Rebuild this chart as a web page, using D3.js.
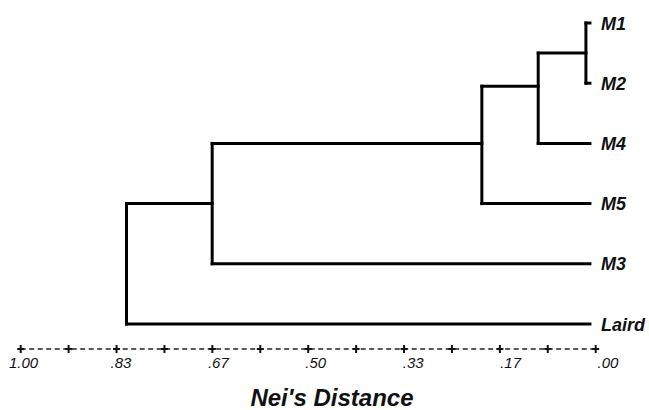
<!DOCTYPE html>
<html>
<head>
<meta charset="utf-8">
<script src="https://cdn.jsdelivr.net/npm/d3@7"></script>
<style>
  body { margin: 0; background: #fff; }
  text { font-family: "Liberation Sans", Arial, sans-serif; fill: #111; }
</style>
</head>
<body>
<div id="chart"></div>
<script>
const width = 649;
const height = 410;

// leaves, top to bottom
const leafNames = ["M1", "M2", "M4", "M5", "M3", "Laird"];
// distance at which the leaf branches stop
const tipDistance = 0.01;
// clusters: children joined at a given Nei's distance, drawn at a given row
const clusterIds = ["A", "B", "C", "D", "E"];
const clusterChildren = [["M1", "M2"], ["A", "M4"], ["B", "M5"], ["C", "M3"], ["D", "Laird"]];
const clusterDistance = [0.017, 0.10, 0.198, 0.667, 0.816];
const clusterRow = [0.5, 1.05, 2, 3, 4];

// axis
const tickValues = d3.range(13).map(i => 1 - i / 12);
const labelValues = [1, 5 / 6, 2 / 3, 0.5, 1 / 3, 1 / 6, 0];
const labelTexts = ["1.00", ".83", ".67", ".50", ".33", ".17", ".00"];
const axisTitle = "Nei's Distance";

const svg = d3.select("#chart")
  .append("svg")
  .attr("width", width)
  .attr("height", height);

const xScale = d3.scaleLinear().domain([1, 0]).range([20.7, 595.7]);
const labelX = xScale.copy().range([23.5, 608]);
const yScale = d3.scaleLinear().domain([0, 5]).range([23, 324]);

// lookup for node positions
const nodes = {};
leafNames.forEach((n, i) => { nodes[n] = { dist: tipDistance, row: i }; });
clusterIds.forEach((id, i) => {
  nodes[id] = { dist: clusterDistance[i], row: clusterRow[i], children: clusterChildren[i] };
});

const tree = svg.append("g")
  .attr("fill", "none")
  .attr("stroke", "#000")
  .attr("stroke-width", 3)
  .attr("stroke-linecap", "square");

clusterIds.forEach((id) => {
  const node = nodes[id];
  const rows = node.children.map(c => nodes[c].row);
  // vertical connector
  tree.append("line")
    .attr("x1", xScale(node.dist)).attr("x2", xScale(node.dist))
    .attr("y1", yScale(d3.min(rows))).attr("y2", yScale(d3.max(rows)));
  // horizontal branches to children
  node.children.forEach((c) => {
    tree.append("line")
      .attr("x1", xScale(node.dist)).attr("x2", xScale(nodes[c].dist))
      .attr("y1", yScale(nodes[c].row)).attr("y2", yScale(nodes[c].row));
  });
});

// leaf labels
svg.selectAll(".leaf")
  .data(leafNames)
  .enter()
  .append("text")
  .attr("class", "leaf")
  .attr("x", xScale(tipDistance) + 11)
  .attr("y", (d, i) => yScale(i) + 6.5)
  .style("font-size", "18px")
  .style("font-weight", "bold")
  .style("font-style", "italic")
  .text(d => d);

// dashed distance axis
const axisY = 349;
svg.append("line")
  .attr("x1", xScale(1)).attr("x2", xScale(0))
  .attr("y1", axisY).attr("y2", axisY)
  .attr("stroke", "#222")
  .attr("stroke-width", 1.5)
  .attr("stroke-dasharray", "5,3.5");

const plus = svg.selectAll(".tick")
  .data(tickValues)
  .enter()
  .append("g")
  .attr("class", "tick")
  .attr("transform", d => "translate(" + xScale(d) + "," + axisY + ")")
  .attr("stroke", "#111")
  .attr("stroke-width", 2);
plus.append("line").attr("x1", 0).attr("x2", 0).attr("y1", -4).attr("y2", 4);
plus.append("line").attr("x1", -3.5).attr("x2", 3.5).attr("y1", 0).attr("y2", 0);

svg.selectAll(".tlabel")
  .data(labelValues)
  .enter()
  .append("text")
  .attr("class", "tlabel")
  .attr("x", d => labelX(d))
  .attr("y", 368)
  .attr("text-anchor", "middle")
  .style("font-size", "15px")
  .style("font-style", "italic")
  .text((d, i) => labelTexts[i]);

svg.append("text")
  .attr("x", 332)
  .attr("y", 406)
  .attr("text-anchor", "middle")
  .style("font-size", "24px")
  .style("font-style", "italic")
  .style("font-weight", "bold")
  .text(axisTitle);
</script>
</body>
</html>
